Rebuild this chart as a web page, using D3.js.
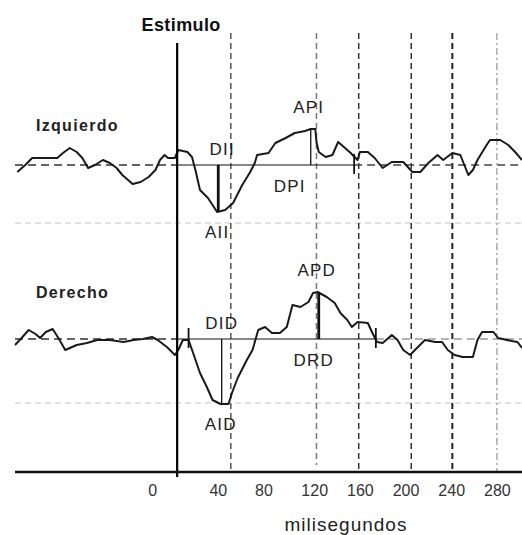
<!DOCTYPE html>
<html>
<head>
<meta charset="utf-8">
<script src="https://cdn.jsdelivr.net/npm/d3@7"></script>
<style>
  html, body { margin: 0; padding: 0; background: #fff; }
  svg { display: block; font-family: Arial, "Liberation Sans", sans-serif; }
</style>
</head>
<body>
<svg id="chart" width="522" height="535"></svg>
<script>
// tiempo (ms) y amplitud (unidades arbitrarias)
const izqMs = [-140, -133, -127, -105, -100, -94, -88, -83, -78, -72, -65, -59, -53, -48, -39, -32, -25, -19, -15, -11, -8, -2,
  1, 9, 13, 16, 20, 27, 35, 42, 49, 57, 64, 68, 70, 80, 86, 95, 103, 112, 117, 121, 122, 124, 130, 136, 141, 147, 152,
  158, 160, 167, 173, 180, 188, 198, 206, 213, 220, 228, 233, 241, 248, 255, 259, 263, 271, 274, 283, 290, 296, 302];
const izqAmp = [-7, 0, 7, 7, 12, 17, 13, 7, -3, 0, 5, 2, -3, -10, -19, -17, -12, -5, 5, 10, 7, 7,
  15, 13, 8, -5, -25, -33, -47, -45, -38, -20, -7, 2, 10, 12, 22, 27, 32, 34, 36, 36, 23, 13, 8, 10, 23, 17, 12,
  5, 13, 13, 7, -3, 3, 3, -7, -7, 2, 10, 5, 12, 10, -10, -5, 5, 20, 25, 25, 20, 13, 5];

const derMs = [-142, -137, -130, -124, -120, -115, -109, -104, -98, -94, -88, -79, -70, -59, -47, -38, -30, -22, -17, -9, -2,
  1, 5, 10, 14, 20, 26, 31, 38, 45, 48, 53, 61, 66, 71, 77, 83, 90, 96, 101, 108, 115, 119, 123, 131, 138, 143, 149,
  153, 158, 167, 171, 175, 180, 188, 193, 198, 204, 210, 217, 226, 232, 237, 243, 250, 259, 263, 267, 277, 281, 293, 298, 302];
const derAmp = [-6, 0, 9, 5, 1, 7, 10, 1, -11, -9, -6, -4, -1, -1, -3, -1, 0, 2, -1, -8, -16,
  -11, -1, -1, -14, -34, -48, -61, -65, -65, -54, -39, -21, -11, 9, 12, 6, 6, 12, 34, 32, 37, 46, 47, 42, 36, 26, 19,
  12, 17, 16, 6, -3, -4, 4, -1, -11, -16, -9, -1, -3, -3, -11, -16, -18, -18, -1, 7, 7, 1, -2, -3, -9];

// eje x
const tickMs = [0, 40, 80, 120, 160, 200, 240, 280];
const gridMs = [47, 122, 159, 205, 241, 280];

// mediciones: latencia (ms) y amplitud del pico
const izqPeaks = [{ name: "AII", dur: "DII", ms: 36, amp: -47 }, { name: "API", dur: "DPI", ms: 117, amp: 36 }];
const derPeaks = [{ name: "AID", dur: "DID", ms: 39, amp: -65 }, { name: "APD", dur: "DRD", ms: 124, amp: 47 }];
const izqWindow = [0, 155];
const derWindow = [10, 174];
const izqLevel = -58;
const derLevel = -64;

const svg = d3.select("#chart");
const x = d3.scaleLinear().domain([-142, 302]).range([15, 522]);
const yIzq = d3.scaleLinear().domain([-50, 50]).range([215, 115]);
const yDer = d3.scaleLinear().domain([-50, 50]).range([389, 289]);
const topY = 33, axisY = 472;

// lineas grises de nivel
[[yIzq, izqLevel], [yDer, derLevel]].forEach(([y, v]) => {
  svg.append("line")
    .attr("x1", x.range()[0]).attr("x2", x.range()[1])
    .attr("y1", y(v)).attr("y2", y(v))
    .attr("stroke", "#c4c4c4").attr("stroke-width", 1).attr("stroke-dasharray", "6,4");
});

// verticales punteadas
const gridColor = ["#555", "#777", "#333", "#333", "#222", "#aaa"];
svg.selectAll(".grid").data(gridMs).enter().append("line")
  .attr("class", "grid")
  .attr("x1", d => x(d)).attr("x2", d => x(d))
  .attr("y1", topY).attr("y2", (d, i) => i === 1 ? axisY - 7 : axisY)
  .attr("stroke", (d, i) => gridColor[i])
  .attr("stroke-width", (d, i) => i === 4 ? 2 : 1.5)
  .attr("stroke-dasharray", (d, i) => i === 5 ? "7,3,2,3" : "6,4");

function drawChannel(ms, amp, y, peaks, win, rightColor) {
  const base = y(0);
  // linea base
  svg.append("line").attr("x1", x.range()[0]).attr("x2", x(0)).attr("y1", base).attr("y2", base)
    .attr("stroke", "#333").attr("stroke-width", 1.3).attr("stroke-dasharray", "8,5");
  svg.append("line").attr("x1", x(0)).attr("x2", x(win[1])).attr("y1", base).attr("y2", base)
    .attr("stroke", "#111").attr("stroke-width", 1.2);
  svg.append("line").attr("x1", x(win[1])).attr("x2", x.range()[1]).attr("y1", base).attr("y2", base)
    .attr("stroke", rightColor).attr("stroke-width", 1.3).attr("stroke-dasharray", "8,5");

  // onda
  const line = d3.line().x(d => x(d[0])).y(d => y(d[1]));
  svg.append("path")
    .datum(d3.zip(ms, amp))
    .attr("d", line)
    .attr("fill", "none")
    .attr("stroke", "#1a1a1a")
    .attr("stroke-width", 2)
    .attr("stroke-linejoin", "round");

  // marcas de inicio / fin de ventana
  win.forEach(t => {
    if (t === 0) return;
    svg.append("line").attr("x1", x(t)).attr("x2", x(t))
      .attr("y1", y(11)).attr("y2", y(-9))
      .attr("stroke", "#111").attr("stroke-width", 1.8);
  });

  // picos
  peaks.forEach((p, i) => {
    svg.append("line").attr("x1", x(p.ms)).attr("x2", x(p.ms))
      .attr("y1", base).attr("y2", y(p.amp))
      .attr("stroke", "#111").attr("stroke-width", (i === 0) === (y === yIzq) ? 2.8 : 1.3);
    const up = p.amp > 0;
    svg.append("text")
      .attr("x", x(p.ms) + (up ? -2 : -1)).attr("y", y(p.amp) + (up ? -22 : 20))
      .attr("dy", "0.36em").attr("text-anchor", "middle")
      .attr("font-size", 17).attr("letter-spacing", 1.2).attr("fill", "#222")
      .text(p.name);
    svg.append("text")
      .attr("x", x(p.ms) + (up ? (y === yIzq ? -21 : -5) : (y === yIzq ? 4 : 0)))
      .attr("y", base + (up ? 21 : -16))
      .attr("dy", "0.36em").attr("text-anchor", "middle")
      .attr("font-size", 17).attr("letter-spacing", 1.2).attr("fill", "#222")
      .text(p.dur);
  });
}

drawChannel(izqMs, izqAmp, yIzq, izqPeaks, izqWindow, "#444");
drawChannel(derMs, derAmp, yDer, derPeaks, derWindow, "#999");

// estimulo
svg.append("line").attr("x1", x(0)).attr("x2", x(0)).attr("y1", 43).attr("y2", axisY + 5)
  .attr("stroke", "#000").attr("stroke-width", 2.2);
svg.append("text").attr("x", x(0) + 4).attr("y", 31).attr("text-anchor", "middle")
  .attr("font-size", 18).attr("font-weight", "bold").attr("letter-spacing", 0.4).attr("fill", "#111")
  .text("Estimulo");

// eje
const axis = svg.append("g")
  .attr("transform", "translate(0," + axisY + ")")
  .call(d3.axisBottom(x).tickValues(tickMs).tickSize(0).tickPadding(13));
axis.select(".domain").remove();
axis.selectAll("text")
  .attr("font-size", 16).attr("font-family", "Arial, 'Liberation Sans', sans-serif").attr("fill", "#333")
  .attr("dx", d => d === 0 ? -25 : d < 100 ? -5 : 0);
svg.append("line").attr("x1", x.range()[0]).attr("x2", x.range()[1]).attr("y1", axisY).attr("y2", axisY)
  .attr("stroke", "#111").attr("stroke-width", 2.5);
svg.append("text").attr("x", 346).attr("y", 531).attr("text-anchor", "middle")
  .attr("font-size", 19).attr("letter-spacing", 1).attr("fill", "#222")
  .text("milisegundos");

// nombres de canales
svg.append("text").attr("x", 36).attr("y", 131).attr("font-size", 16).attr("font-weight", "bold")
  .attr("letter-spacing", 1.3).attr("fill", "#222").text("Izquierdo");
svg.append("text").attr("x", 36).attr("y", 298).attr("font-size", 16).attr("font-weight", "bold")
  .attr("letter-spacing", 1.3).attr("fill", "#222").text("Derecho");
</script>
</body>
</html>
